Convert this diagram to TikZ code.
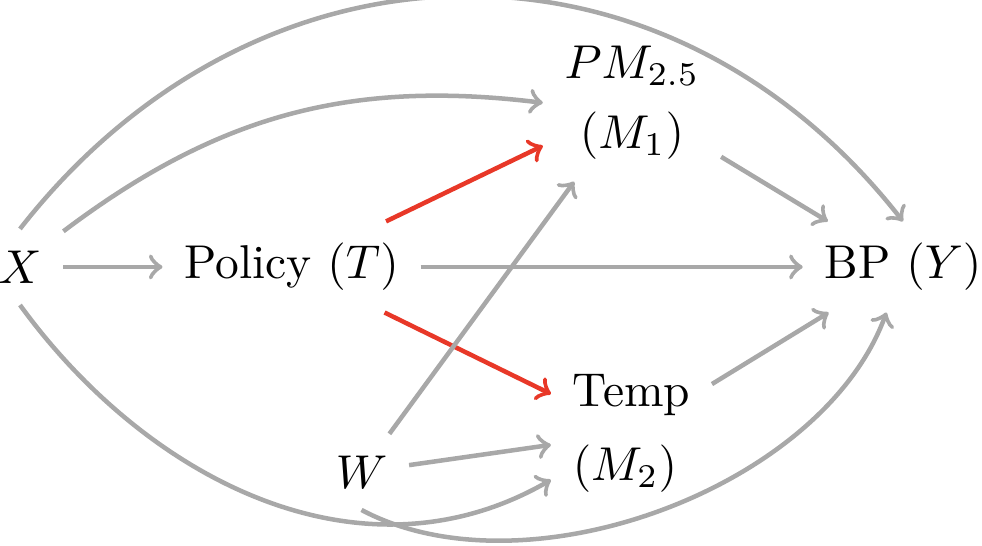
\documentclass[tikz,border=0pt]{standalone}
\usepackage{amsmath}
\usepackage{tikz}
\usetikzlibrary{arrows.meta, positioning}
\usepackage{xcolor}
\definecolor{linkgray}{RGB}{168,168,168}
\definecolor{pathred}{RGB}{232,56,40}

\begin{document}
\begin{tikzpicture}[
  >=to,
  % Variable node styles
  var/.style={inner sep=4.4pt, align=center},
  medleft/.style={inner sep=4.4pt, align=left},
  % Connector styles
  link/.style={line width=0.95pt, ->, color=linkgray},
  causal/.style={line width=0.95pt, ->, color=pathred}
]
\useasboundingbox (-0.148,-2.065) rectangle (7.121,1.976);

% Variables
\node[var] (X) at (0,0) {$X$};
\node[var] (T) at (2.01,0) {Policy $(T)$};
\node[var] (Y) at (6.536,0) {BP $(Y)$};
\node[var] (M1) at (4.53,1.215) {$PM_{2.5}$\\[2.7pt]$(M_1)$};
\node[medleft] (M2) at (4.526,-1.232) {Temp\\[3.6pt]$(M_2)$};
\node[var] (W) at (2.528,-1.517) {$W$};

% Paths through the mediators
\draw[causal] (T) -- (M1);
\draw[causal] (T) -- (M2);

% Other arrows
\draw[link] (X) -- (T);
\draw[link] (T) -- (Y);
\draw[link] (M1) -- (Y);
\draw[link] (M2) -- (Y);
\draw[link] (W) -- (M1);
\draw[link] (W) -- (M2);
\draw[link] (X) to[bend left=22] (M1.west);
\draw[link] (X.north) to[out=52, in=128, looseness=1.12] (Y.north);
\draw[link] (X.south) to[out=-54, in=210] (M2);
\draw[link] (W.south) to[out=-28, in=250, looseness=0.85] (Y);

\end{tikzpicture}
\end{document}
